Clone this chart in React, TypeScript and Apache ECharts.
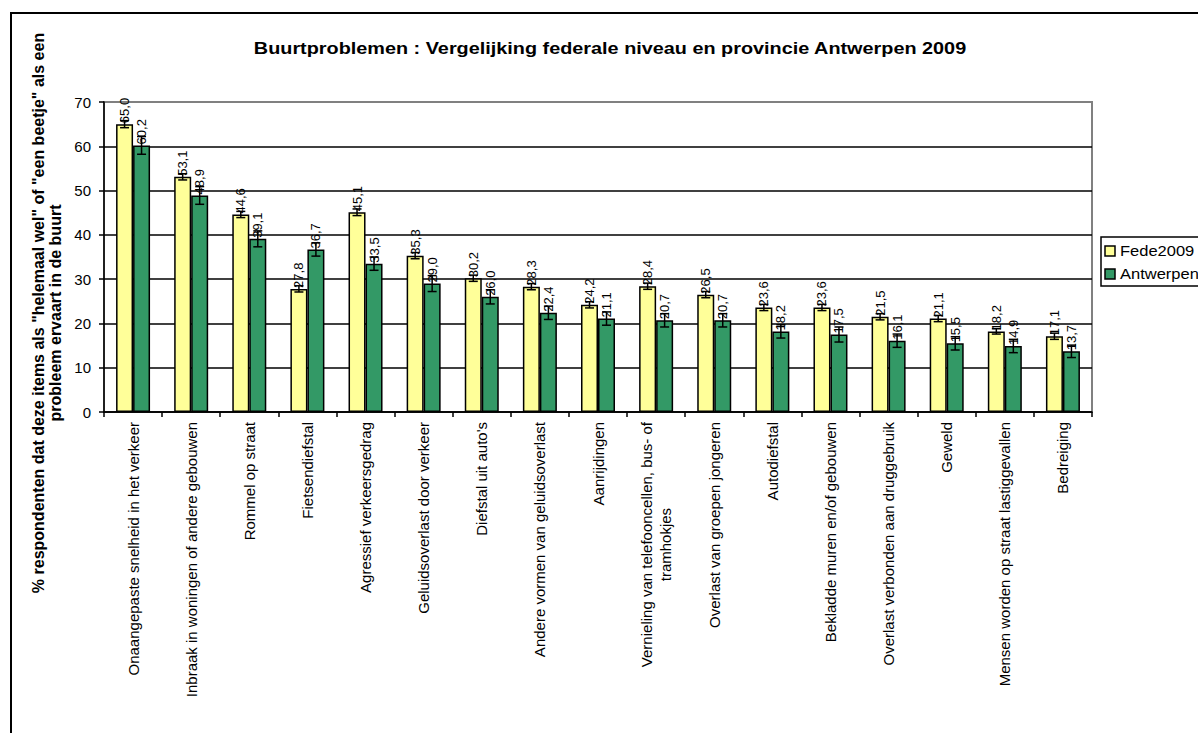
import React, { useEffect, useRef } from "react";
import * as echarts from "echarts";

const categories: string[] = [
  "Onaangepaste snelheid in het verkeer",
  "Inbraak in woningen of andere gebouwen",
  "Rommel op straat",
  "Fietsendiefstal",
  "Agressief verkeersgedrag",
  "Geluidsoverlast door verkeer",
  "Diefstal uit auto's",
  "Andere vormen van geluidsoverlast",
  "Aanrijdingen",
  "Vernieling van telefooncellen, bus- of\ntramhokjes",
  "Overlast van groepen jongeren",
  "Autodiefstal",
  "Bekladde muren en/of gebouwen",
  "Overlast verbonden aan druggebruik",
  "Geweld",
  "Mensen worden op straat lastiggevallen",
  "Bedreiging",
];

const fede2009: number[] = [65.0, 53.1, 44.6, 27.8, 45.1, 35.3, 30.2, 28.3, 24.2, 28.4, 26.5, 23.6, 23.6, 21.5, 21.1, 18.2, 17.1];
const antwerpen: number[] = [60.2, 48.9, 39.1, 36.7, 33.5, 29.0, 26.0, 22.4, 21.1, 20.7, 20.7, 18.2, 17.5, 16.1, 15.5, 14.9, 13.7];

const fedeErr: number[] = [0.8, 0.7, 0.7, 0.7, 0.75, 0.7, 0.7, 0.7, 0.7, 0.7, 0.7, 0.7, 0.7, 0.7, 0.7, 0.6, 0.7];
const antErr: number[] = [2.0, 2.0, 1.8, 1.5, 1.5, 1.8, 1.6, 1.5, 1.5, 1.5, 1.5, 1.5, 1.7, 1.5, 1.5, 1.5, 1.4];

const yTicks = { min: 0, max: 70, interval: 10 };

const seriesNames = ["Fede2009", "Antwerpen"];
const colors = ["#FFFF99", "#339966"];

const titleText = "Buurtproblemen : Vergelijking federale niveau en provincie Antwerpen 2009";
const yTitleText =
  '% respondenten dat deze items als "helemaal wel" of "een beetje" als een\nprobleem ervaart in de buurt';

const FONT = "'Liberation Sans', Arial, sans-serif";
const BAR_W = 17;

const fmt = (v: number) => v.toFixed(1).replace(".", ",");

export default function App() {
  const ref = useRef<HTMLDivElement>(null);

  useEffect(() => {
    if (!ref.current) return;
    const chart = echarts.init(ref.current, undefined, { renderer: "svg" });

    const errRender = (offset: number) => (params: any, api: any) => {
      const x = api.value(0);
      const v = api.value(1);
      const e = api.value(2);
      const hi = api.coord([x, v + e]);
      const lo = api.coord([x, v - e]);
      const cx = hi[0] + offset;
      const cap = 4.5;
      const style = { stroke: "#000", lineWidth: 1.5 };
      return {
        type: "group",
        children: [
          { type: "line", shape: { x1: cx, y1: hi[1], x2: cx, y2: lo[1] }, style },
          { type: "line", shape: { x1: cx - cap, y1: hi[1], x2: cx + cap, y2: hi[1] }, style },
          { type: "line", shape: { x1: cx - cap, y1: lo[1], x2: cx + cap, y2: lo[1] }, style },
        ],
      };
    };

    const barLabel = {
      show: true,
      position: "top",
      rotate: 90,
      align: "left",
      verticalAlign: "middle",
      distance: 1,
      fontSize: 13,
      fontFamily: FONT,
      color: "#000",
      formatter: (p: any) => fmt(p.value),
    };

    const legendGraphic: any[] = [
      {
        type: "rect",
        shape: { x: 1101, y: 237, width: 140, height: 49 },
        style: { fill: "#fff", stroke: "#000", lineWidth: 1.5 },
        z: 50,
      },
    ];
    seriesNames.forEach((name, i) => {
      const cy = 251 + i * 23;
      legendGraphic.push({
        type: "rect",
        shape: { x: 1105, y: cy - 5, width: 10, height: 10 },
        style: { fill: colors[i], stroke: "#000", lineWidth: 1.5 },
        z: 51,
      });
      legendGraphic.push({
        type: "text",
        x: 1120,
        y: cy,
        scaleX: 1.1,
        style: {
          text: name,
          font: "15px " + FONT,
          fill: "#000",
          align: "left",
          verticalAlign: "middle",
        },
        z: 51,
      });
    });

    const option: any = {
      animation: false,
      backgroundColor: "#fff",
      textStyle: { fontFamily: FONT },
      grid: {
        left: 104,
        right: 106,
        top: 102,
        bottom: 321,
        show: true,
        borderColor: "#808080",
        borderWidth: 2,
        backgroundColor: "transparent",
      },
      xAxis: {
        type: "category",
        data: categories,
        axisLine: { lineStyle: { color: "#000", width: 1.5 } },
        axisTick: { show: true, length: 5, lineStyle: { color: "#000", width: 1.5 } },
        axisLabel: {
          rotate: 90,
          interval: 0,
          margin: 10,
          fontSize: 15,
          fontFamily: FONT,
          color: "#000",
          lineHeight: 19,
          formatter: (v: string) =>
            v
              .split("\n")
              .map((s) => "{c|" + s + "}")
              .join("\n"),
          rich: { c: { align: "center", fontSize: 15, fontFamily: FONT, color: "#000", lineHeight: 19 } },
        },
      },
      yAxis: {
        type: "value",
        min: yTicks.min,
        max: yTicks.max,
        interval: yTicks.interval,
        axisLine: { show: true, lineStyle: { color: "#000", width: 1.5 } },
        axisTick: { show: true, length: 5, lineStyle: { color: "#000", width: 1.5 } },
        axisLabel: { fontSize: 15, fontFamily: FONT, color: "#000", margin: 13 },
        splitLine: {
          show: true,
          lineStyle: {
            color: ["#000", "#000", "#000", "#000", "#000", "#000", "#000", "#808080"],
            width: 1.5,
          },
        },
      },
      graphic: [
        {
          type: "rect",
          shape: { x: 11, y: 13, width: 1400, height: 1000 },
          style: { fill: "none", stroke: "#000", lineWidth: 2 },
          z: 100,
        },
        {
          type: "text",
          x: 610,
          y: 49,
          scaleX: 1.24,
          style: {
            text: titleText,
            font: "bold 16px " + FONT,
            fill: "#000",
            align: "center",
            verticalAlign: "middle",
          },
        },
        {
          type: "text",
          x: 47,
          y: 313,
          rotation: Math.PI / 2,
          style: {
            text: yTitleText,
            font: "bold 16px " + FONT,
            fill: "#000",
            align: "center",
            verticalAlign: "middle",
            lineHeight: 17,
          },
        },
        ...legendGraphic,
      ],
      series: [
        {
          name: seriesNames[0],
          type: "bar",
          data: fede2009,
          barWidth: BAR_W,
          barGap: "0%",
          itemStyle: { color: colors[0], borderColor: "#000", borderWidth: 1.5 },
          label: barLabel,
          z: 2,
        },
        {
          name: seriesNames[1],
          type: "bar",
          data: antwerpen,
          barWidth: BAR_W,
          barGap: "0%",
          itemStyle: { color: colors[1], borderColor: "#000", borderWidth: 1.5 },
          label: barLabel,
          z: 2,
        },
        {
          type: "custom",
          name: "errFede",
          renderItem: errRender(-BAR_W / 2),
          data: fede2009.map((v, i) => [i, v, fedeErr[i]]),
          encode: { x: 0, y: 1 },
          z: 10,
          silent: true,
        },
        {
          type: "custom",
          name: "errAnt",
          renderItem: errRender(BAR_W / 2),
          data: antwerpen.map((v, i) => [i, v, antErr[i]]),
          encode: { x: 0, y: 1 },
          z: 10,
          silent: true,
        },
      ],
    };

    chart.setOption(option);
    return () => chart.dispose();
  }, []);

  return (
    <div
      ref={ref}
      style={{ position: "absolute", left: 0, top: 0, width: 1198, height: 733 }}
    />
  );
}
